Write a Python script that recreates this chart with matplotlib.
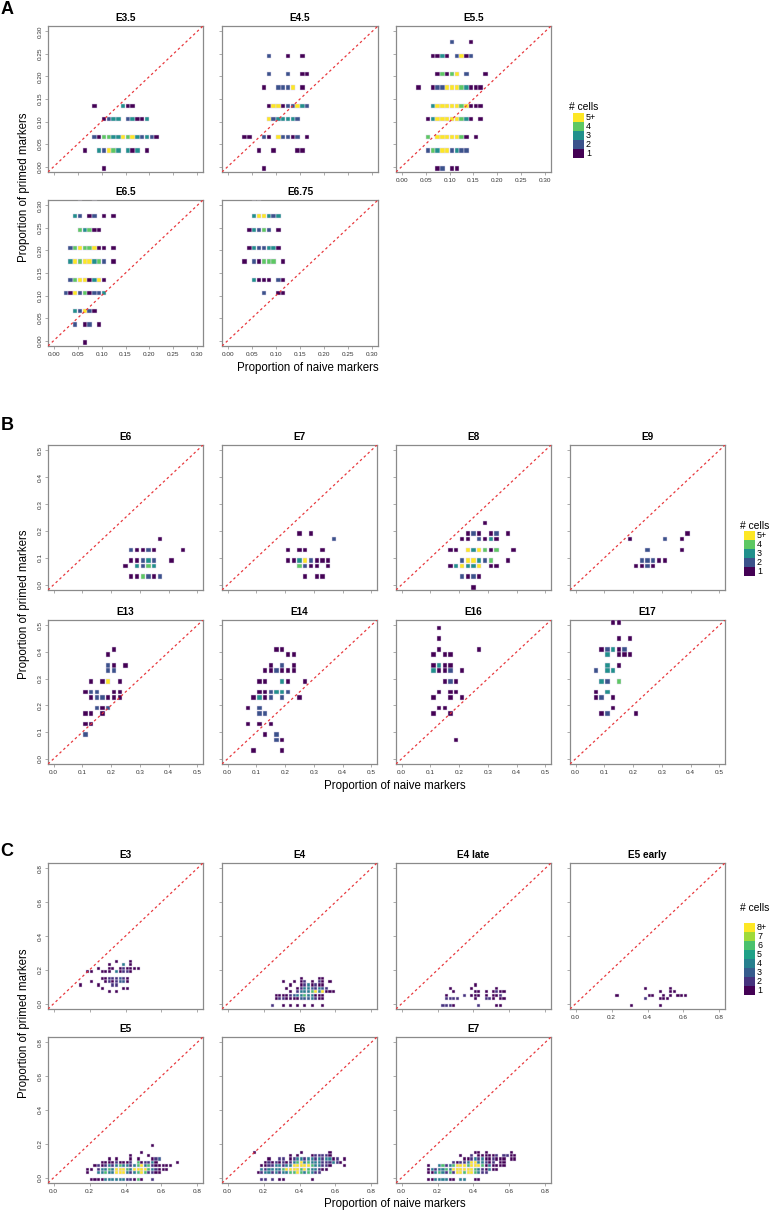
import matplotlib
matplotlib.use("Agg")
import matplotlib.pyplot as plt
from matplotlib.patches import Rectangle

plt.rcParams["font.family"] = ["Liberation Sans", "DejaVu Sans"]

# ------------------------------------------------------------
# data: rows of (y, first x, counts per grid step); 0 = empty
# ------------------------------------------------------------
A_E35 = [(0.135, 0.085, "100000311"),
         (0.1057, 0.105, "1233023113"),
         (0.066, 0.085, "21443354532321"),
         (0.0357, 0.065, "10032543031301"),
         (-0.0045, 0.105, "1")]
A_E45 = [(0.2455, 0.085, "20001001"),
         (0.205, 0.085, "200020011"),
         (0.1756, 0.075, "100222501"),
         (0.135, 0.085, "155122532"),
         (0.1057, 0.085, "5233332"),
         (0.066, 0.035, "11002105221201"),
         (0.0357, 0.065, "1001000011"),
         (-0.0045, 0.075, "1")]
A_E55 = [(0.276, 0.105, "20001"),
         (0.2455, 0.065, "113102512"),
         (0.205, 0.075, "14145020001"),
         (0.1756, 0.035, "10012255543111"),
         (0.135, 0.065, "35555545111"),
         (0.1057, 0.055, "135555543101"),
         (0.066, 0.055, "40555554101"),
         (0.0357, 0.055, "243552322"),
         (-0.0045, 0.075, "12011")]
A_E65 = [(0.316, 0.055, "1001"),
         (0.276, 0.045, "320120101"),
         (0.2455, 0.055, "43411"),
         (0.205, 0.035, "2454451101"),
         (0.1756, 0.035, "3545534201"),
         (0.135, 0.035, "24551351"),
         (0.1057, 0.025, "215241223"),
         (0.066, 0.045, "32521"),
         (0.0357, 0.045, "201201"),
         (-0.0045, 0.065, "1")]
A_E675 = [(0.316, 0.055, "11"),
          (0.276, 0.055, "355323"),
          (0.2455, 0.045, "1324201"),
          (0.205, 0.045, "1322331"),
          (0.1756, 0.035, "102144401"),
          (0.135, 0.055, "3111021"),
          (0.1057, 0.075, "20011")]

B_E6 = [(0.17, 0.37, "1"),
        (0.13, 0.27, "2112100001"),
        (0.09, 0.27, "11232001"),
        (0.07, 0.25, "103243"),
        (0.03, 0.27, "114212")]
B_E7 = [(0.19, 0.25, "101"),
        (0.17, 0.37, "2"),
        (0.13, 0.21, "1011001"),
        (0.09, 0.21, "11352111"),
        (0.07, 0.25, "421101"),
        (0.03, 0.27, "1011")]
B_E8 = [(0.23, 0.29, "1"),
        (0.19, 0.23, "12101201"),
        (0.17, 0.21, "1102131"),
        (0.13, 0.17, "110535414001"),
        (0.09, 0.21, "255324001"),
        (0.07, 0.17, "135335011"),
        (0.03, 0.21, "2121"),
        (-0.01, 0.25, "1")]
B_E9 = [(0.19, 0.39, "1"),
        (0.17, 0.19, "1000002001"),
        (0.13, 0.25, "2000001"),
        (0.09, 0.23, "22211"),
        (0.07, 0.21, "1121")]
B_E13 = [(0.41, 0.21, "1"),
         (0.39, 0.19, "1"),
         (0.35, 0.19, "2101"),
         (0.33, 0.19, "22"),
         (0.29, 0.13, "101501"),
         (0.25, 0.11, "1220011"),
         (0.23, 0.13, "122111"),
         (0.19, 0.15, "212"),
         (0.17, 0.11, "1101"),
         (0.13, 0.11, "11"),
         (0.09, 0.11, "2")]
B_E14 = [(0.41, 0.17, "11"),
         (0.39, 0.21, "11"),
         (0.35, 0.15, "10201"),
         (0.33, 0.13, "112111"),
         (0.29, 0.11, "110031001"),
         (0.25, 0.11, "112332"),
         (0.23, 0.09, "131202001"),
         (0.19, 0.07, "102"),
         (0.17, 0.11, "22"),
         (0.13, 0.07, "10101"),
         (0.09, 0.13, "102"),
         (0.07, 0.17, "21"),
         (0.03, 0.09, "100001")]
B_E16 = [(0.49, 0.13, "1"),
         (0.45, 0.13, "1"),
         (0.41, 0.13, "10000001"),
         (0.39, 0.11, "1011"),
         (0.35, 0.11, "1311"),
         (0.33, 0.11, "311201"),
         (0.29, 0.15, "121"),
         (0.25, 0.13, "1011"),
         (0.23, 0.11, "100101"),
         (0.19, 0.13, "11"),
         (0.17, 0.11, "1001"),
         (0.07, 0.19, "1")]
B_E17 = [(0.51, 0.13, "11"),
         (0.45, 0.15, "101"),
         (0.41, 0.09, "12312"),
         (0.39, 0.11, "30111"),
         (0.35, 0.11, "301"),
         (0.33, 0.07, "2033"),
         (0.29, 0.09, "3204"),
         (0.25, 0.07, "103"),
         (0.23, 0.07, "1201"),
         (0.19, 0.13, "1"),
         (0.17, 0.09, "1200001")]

C_E3 = [(0.25, 0.35, "10001"),
        (0.23, 0.31, "1000401"),
        (0.21, 0.25, "100110121111"),
        (0.19, 0.19, "1100111041221"),
        (0.15, 0.27, "11222321"),
        (0.13, 0.21, "10001212331"),
        (0.11, 0.15, "10000100022"),
        (0.09, 0.27, "10000011"),
        (0.07, 0.31, "101")]
C_E4 = [(0.15, 0.41, "1000011"),
        (0.13, 0.31, "10010120102101"),
        (0.11, 0.35, "1001241211"),
        (0.09, 0.33, "100124432432"),
        (0.07, 0.35, "1024446848111"),
        (0.05, 0.27, "11112344644111"),
        (0.03, 0.27, "12211113334211"),
        (-0.01, 0.25, "200101010101001")]
C_E4LATE = [(0.11, 0.41, "1"),
            (0.09, 0.27, "10000010000001"),
            (0.07, 0.29, "100000110101211"),
            (0.05, 0.25, "1000020111010112"),
            (0.03, 0.25, "22220000100221011"),
            (-0.01, 0.23, "22210000002000011")]
C_E5EARLY = [(0.09, 0.39, "10000001"),
             (0.07, 0.47, "10011"),
             (0.05, 0.23, "10000000011001010111"),
             (0.03, 0.39, "2000111"),
             (-0.01, 0.31, "100000001")]
C_E5 = [(0.19, 0.55, "1"),
        (0.15, 0.49, "1"),
        (0.13, 0.43, "100001"),
        (0.11, 0.31, "101000101000123"),
        (0.09, 0.27, "1111211120612241000001"),
        (0.07, 0.23, "1212424644246846211111"),
        (0.05, 0.19, "11024464888648888642111"),
        (0.03, 0.19, "100446448884246862211"),
        (-0.01, 0.21, "111144444422161002")]
C_E6 = [(0.15, 0.15, "1000000000000100000001"),
        (0.13, 0.35, "101000122221"),
        (0.11, 0.23, "1002201244244242441201"),
        (0.09, 0.21, "1212121246846444222421"),
        (0.07, 0.19, "112244244888886442210001"),
        (0.05, 0.19, "4244446888868644211"),
        (0.03, 0.17, "124424244668646422"),
        (-0.01, 0.19, "220201100000001")]
C_E7 = [(0.15, 0.41, "11010000001"),
        (0.13, 0.33, "1002011111202211"),
        (0.11, 0.35, "112424112111011"),
        (0.09, 0.29, "212248844212011"),
        (0.07, 0.15, "1004624688868886141111"),
        (0.05, 0.15, "14244648888886421411"),
        (0.03, 0.15, "11464262886886422"),
        (-0.01, 0.15, "114444110440011")]

PAL5 = ["#440154", "#3B528B", "#21908C", "#5DC863", "#FDE725"]
PAL8 = ["#440154", "#46337E", "#365C8D", "#277F8E", "#1FA187",
        "#4AC16D", "#9FDA3A", "#FDE725"]
LEG5 = ["1", "2", "3", "4", "5+"]
LEG8 = ["1", "2", "3", "4", "5", "6", "7", "8+"]

EDGE = "#ddd5ea"
RED = "#e8383d"
FRAME = "#8a8a8a"

W, H = 771, 1211
fig = plt.figure(figsize=(W / 100, H / 100), dpi=100)


def expand(rows, step):
    xs, ys, cs = [], [], []
    for y, x0, counts in rows:
        for i, ch in enumerate(counts):
            if ch != "0":
                xs.append(x0 + i * step)
                ys.append(y)
                cs.append(int(ch))
    return xs, ys, cs


def panel(left, top, w, h, rows, title, step, vmax, ticks, fmt, pal, size,
          show_x, show_y):
    ax = fig.add_axes([left / W, 1 - (top + h) / H, w / W, h / H])
    lim = (-0.04 * vmax, 1.04 * vmax)
    xs, ys, cs = expand(rows, step)
    ax.scatter(xs, ys, c=[pal[c - 1] for c in cs], marker="s", s=size,
               edgecolors=EDGE, linewidths=0.35, zorder=3)
    ax.plot(lim, lim, color=RED, lw=0.9, ls=(0, (2, 2.2)), zorder=4)
    ax.set_xlim(lim)
    ax.set_ylim(lim)
    ax.set_xticks(ticks)
    ax.set_yticks(ticks)
    ax.set_xticklabels([fmt.format(t) for t in ticks])
    ax.set_yticklabels([fmt.format(t) for t in ticks], rotation=90, va="center")
    for s in ax.spines.values():
        s.set_color(FRAME)
        s.set_linewidth(0.9)
    ax.tick_params(length=2.5, width=0.5, color=FRAME, labelsize=4.6,
                   labelcolor="#333333", pad=1.5,
                   labelbottom=show_x, labelleft=show_y)
    ax.set_title(title, fontsize=7.2, fontweight="bold", pad=3.5)
    return ax


def legend(x, y_title, y_top, labels, pal):
    fig.text((x - 4) / W, 1 - y_title / H, "# cells", fontsize=7.4,
             ha="left", va="center")
    n = len(labels)
    for i in range(n):
        k = n - 1 - i
        y0 = y_top + i * 9
        fig.add_artist(Rectangle((x / W, 1 - (y0 + 9) / H), 11 / W, 9 / H,
                                 transform=fig.transFigure,
                                 facecolor=pal[k], lw=0))
        fig.text((x + 13) / W, 1 - (y0 + 4.5) / H, labels[k], fontsize=6.4,
                 ha="left", va="center")


# Panel A
tA = [0.0, 0.05, 0.10, 0.15, 0.20, 0.25, 0.30]
panel(48, 26, 155, 146, A_E35, "E3.5", 0.01, 0.3, tA, "{:.2f}", PAL5, 10, False, True)
panel(222, 26, 156, 146, A_E45, "E4.5", 0.01, 0.3, tA, "{:.2f}", PAL5, 10, False, False)
panel(396, 26, 155, 146, A_E55, "E5.5", 0.01, 0.3, tA, "{:.2f}", PAL5, 10, True, False)
panel(48, 200, 155, 146, A_E65, "E6.5", 0.01, 0.3, tA, "{:.2f}", PAL5, 10, True, True)
panel(222, 200, 156, 146, A_E675, "E6.75", 0.01, 0.3, tA, "{:.2f}", PAL5, 10, True, False)
legend(573, 107, 113, LEG5, PAL5)

# Panel B
tB = [0.0, 0.1, 0.2, 0.3, 0.4, 0.5]
lefts = [48, 222, 396, 570]
for i, (rows, name) in enumerate([(B_E6, "E6"), (B_E7, "E7"), (B_E8, "E8"), (B_E9, "E9")]):
    panel(lefts[i], 445, 155, 145, rows, name, 0.02, 0.5, tB, "{:.1f}", PAL5, 10, False, i == 0)
for i, (rows, name) in enumerate([(B_E13, "E13"), (B_E14, "E14"), (B_E16, "E16"), (B_E17, "E17")]):
    panel(lefts[i], 620, 155, 144, rows, name, 0.02, 0.5, tB, "{:.1f}", PAL5, 10, True, i == 0)
legend(744, 526, 531, LEG5, PAL5)

# Panel C
tC = [0.0, 0.2, 0.4, 0.6, 0.8]
for i, (rows, name) in enumerate([(C_E3, "E3"), (C_E4, "E4"), (C_E4LATE, "E4 late"),
                                  (C_E5EARLY, "E5 early")]):
    panel(lefts[i], 863, 155, 146, rows, name, 0.02, 0.8, tC, "{:.1f}", PAL8, 4.8, i == 3, i == 0)
for i, (rows, name) in enumerate([(C_E5, "E5"), (C_E6, "E6"), (C_E7, "E7")]):
    panel(lefts[i], 1037, 155, 146, rows, name, 0.02, 0.8, tC, "{:.1f}", PAL8, 4.8, True, i == 0)
legend(744, 908, 923, LEG8, PAL8)

# panel letters and axis labels
for letter, y in [("A", 9), ("B", 426), ("C", 851)]:
    fig.text(7 / W, 1 - y / H, letter, fontsize=13, fontweight="bold",
             ha="center", va="center")
for x, y in [(308, 368), (395, 786), (395, 1204)]:
    fig.text(x / W, 1 - y / H, "Proportion of naive markers", fontsize=8.3,
             ha="center", va="center")
for y in [187, 604, 1023]:
    fig.text(24 / W, 1 - y / H, "Proportion of primed markers", fontsize=8.3,
             rotation=90, ha="center", va="center")

fig.savefig("out.png", dpi=100)
